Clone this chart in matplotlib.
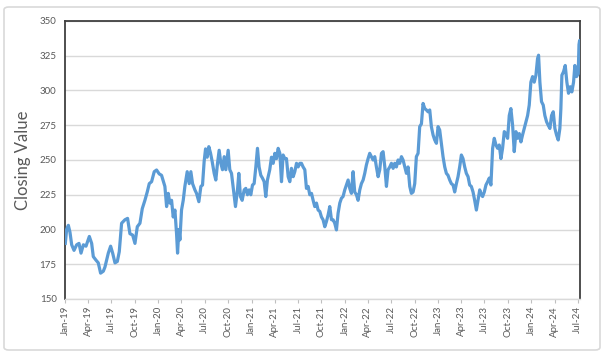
import numpy as np
import pandas as pd
import matplotlib
matplotlib.use("Agg")
import matplotlib.pyplot as plt
import matplotlib.dates as mdates
from matplotlib.patches import FancyBboxPatch

# x positions, in months since 1 Jan 2019
months_since_jan2019 = [
    0.04, 0.21, 0.43, 0.64, 0.86, 1.16, 1.50, 1.80, 2.06, 2.36, 2.70, 3.13, 3.43, 3.64, 3.98,
    4.28, 4.58, 4.93, 5.14, 5.57, 5.87, 6.13, 6.43, 6.73, 6.98, 7.28, 7.71, 8.05, 8.35, 8.70,
    9.00, 9.30, 9.64, 9.94, 10.28, 10.58, 10.84, 11.14, 11.48, 11.78, 12.12, 12.42, 12.85, 13.07, 13.28,
    13.49, 13.71, 13.92, 14.14, 14.35, 14.48, 14.65, 14.78, 14.99, 15.21, 15.42, 15.72, 15.98, 16.19, 16.41,
    16.71, 16.92, 17.22, 17.48, 17.69, 17.90, 18.08, 18.29, 18.50, 18.72, 18.93, 19.19, 19.40, 19.62, 19.83,
    20.05, 20.26, 20.48, 20.69, 20.99, 21.20, 21.42, 21.72, 21.93, 22.19, 22.36, 22.57, 22.79, 23.05, 23.26,
    23.47, 23.69, 23.90, 24.12, 24.33, 24.55, 24.76, 24.97, 25.19, 25.40, 25.62, 25.83, 26.04, 26.34,
    26.56, 26.78, 26.99, 27.21, 27.42, 27.64, 27.85, 28.06, 28.28, 28.49, 28.71, 28.92, 29.13, 29.35, 29.56,
    29.78, 29.99, 30.21, 30.42, 30.63, 30.85, 31.06, 31.28, 31.49, 31.71, 31.92, 32.13, 32.35, 32.56, 32.78,
    32.99, 33.20, 33.42, 33.63, 33.85, 34.06, 34.28, 34.49, 34.70, 34.92, 35.13, 35.35, 35.56, 35.77, 35.99,
    36.20, 36.42, 36.63, 36.85, 37.06, 37.27, 37.49, 37.70, 37.92, 38.13, 38.35, 38.56, 38.77, 38.99, 39.20,
    39.42, 39.63, 39.85, 40.06, 40.28, 40.49, 40.71, 40.92, 41.14, 41.35, 41.56, 41.78, 41.99, 42.21, 42.42,
    42.63, 42.85, 43.06, 43.28, 43.49, 43.71, 43.92, 44.13, 44.35, 44.56, 44.78, 44.99, 45.20, 45.42, 45.63,
    45.85, 46.06, 46.28, 46.49, 46.70, 46.92, 47.13, 47.35, 47.56, 47.78, 47.99, 48.20, 48.42, 48.63, 48.85,
    49.06, 49.27, 49.49, 49.70, 49.92, 50.13, 50.35, 50.56, 50.77, 50.99, 51.20, 51.42, 51.63, 51.85, 52.06,
    52.27, 52.49, 52.70, 52.92, 53.13, 53.35, 53.56, 53.72, 53.94, 54.15, 54.37, 54.58, 54.79, 55.01, 55.22,
    55.44, 55.65, 55.86, 56.08, 56.29, 56.51, 56.72, 56.94, 57.15, 57.36, 57.58, 57.79, 58.01, 58.22, 58.44,
    58.65, 58.86, 59.08, 59.29, 59.51, 59.72, 59.93, 60.15, 60.36, 60.58, 60.79, 60.92, 61.09, 61.30, 61.52,
    61.73, 61.95, 62.16, 62.38, 62.59, 62.81, 63.02, 63.23, 63.45, 63.66, 63.79, 63.92, 64.13, 64.35, 64.56,
    64.77, 64.99, 65.20, 65.42, 65.59, 65.80, 66.02, 66.12, 66.20, 66.25,
]

closing_values = [
    190, 200, 203, 198, 189, 185, 189, 190, 183, 189, 188, 195, 190, 180.5, 178,
    176, 168.6, 170, 173, 183, 188, 183, 176, 177, 184, 204.5, 207, 208, 197, 196,
    190, 202, 204.5, 215, 221, 227, 233, 234.4, 241.6, 242.8, 240, 239, 231, 216.5, 226,
    219, 221, 209, 214, 197, 183, 200, 192.5, 214, 221, 231, 241.6, 233, 241.6, 233,
    228.5, 226, 220, 231, 232, 249, 258, 252, 259.6, 255, 249, 240.4, 235.6, 247.6, 257,
    247.6, 243, 252.4, 243, 257, 243, 240.4, 226, 216.5, 228.5, 240.4, 223.7, 221, 228.5, 229.6,
    225, 228.5, 225, 232, 233, 245, 258.4, 245, 239, 237, 234.4, 223.7, 235.6, 243,
    252, 247.6, 254.8, 251, 258.4, 254.8, 234.4, 253.6, 251, 251, 238, 234.4, 244, 238, 241.6,
    247.6, 245, 247.6, 247.6, 245, 243, 229.6, 231, 225, 226, 221, 216.5, 219, 214, 213,
    209, 207, 202, 205.7, 210.5, 216.5, 207, 207, 204.5, 199.7, 211.7, 219, 222.5, 223.7, 228.5,
    232, 235.6, 229.6, 226, 241.6, 227, 225, 221, 228.5, 233, 235.6, 240.4, 246.4, 251, 254.8,
    252.4, 250, 252.4, 245, 238, 243, 254.8, 256, 245, 231, 243, 245, 247.6, 244, 247.6,
    245, 250, 247.6, 252.4, 250, 245, 240.4, 245, 231, 226, 227, 233, 252.4, 254.8, 274,
    276, 290.7, 287, 286, 284.7, 286, 274, 268, 264.4, 262, 274, 271.6, 262, 252.4, 245,
    240.4, 239, 235.6, 233, 232, 227, 233, 238, 245, 253.6, 251, 245, 240.4, 238, 232,
    231, 227, 221, 214, 221, 228.5, 225, 223.7, 227, 232, 234.4, 237, 232, 258.4, 265.6,
    260.8, 258.4, 260.8, 251, 258.4, 270.4, 269, 265.6, 282, 287, 275, 256, 270.4, 265.6, 269,
    263, 268, 272.7, 277.5, 282, 289.5, 306, 310, 306, 311, 323, 325.4, 306, 292, 289.5,
    282, 277.5, 275, 272.7, 282, 284.7, 272.7, 268, 264.4, 272.7, 287, 311, 313.5, 318, 306,
    298, 302.7, 299, 306, 318, 310, 312, 333, 336, 329,
]

y_ticks = [150, 175, 200, 225, 250, 275, 300, 325, 350]
y_label = "Closing Value"

start = pd.Timestamp("2019-01-01")
dates = start + pd.to_timedelta(np.array(months_since_jan2019) * 30.4375, unit="D")

plt.rcParams["font.family"] = ["Lato", "DejaVu Sans"]

fig = plt.figure(figsize=(6.06, 3.54), dpi=100)
ax = fig.add_axes([65 / 606, 1 - 299 / 354, (580 - 65) / 606, (299 - 21) / 354])

ax.plot(dates, closing_values, color="#5B9BD5", lw=2.3, solid_joinstyle="round", zorder=3)

ax.set_ylim(150, 350)
ax.set_yticks(y_ticks)
ax.set_xlim(start, start + pd.Timedelta(days=66.25 * 30.4375))
ax.xaxis.set_major_locator(mdates.MonthLocator(bymonth=[1, 4, 7, 10]))
ax.xaxis.set_major_formatter(mdates.DateFormatter("%b-%y"))

ax.grid(axis="y", color="#D9D9D9", lw=1.0, zorder=0)
ax.set_axisbelow(True)

for s in ["left", "right", "top"]:
    ax.spines[s].set_color("#404040")
    ax.spines[s].set_linewidth(1.3)
ax.spines["bottom"].set_color("#D9D9D9")
ax.spines["bottom"].set_linewidth(1.0)

ax.tick_params(axis="y", length=0, pad=6, labelsize=7, labelcolor="#595959")
ax.tick_params(axis="x", length=3, width=0.8, color="#BFBFBF", pad=2,
               labelsize=7, labelcolor="#595959", labelrotation=90)
for lab in ax.get_xticklabels():
    lab.set_verticalalignment("top")

ax.set_ylabel(y_label, fontsize=12, color="#595959", labelpad=6)

frame = FancyBboxPatch((4 / 606, 4 / 354), 596 / 606, 343 / 354,
                       boxstyle="round,pad=0,rounding_size=0.008",
                       transform=fig.transFigure, facecolor="none",
                       edgecolor="#D9D9D9", lw=1.2)
fig.patches.append(frame)

fig.savefig("out.png", dpi=100)
